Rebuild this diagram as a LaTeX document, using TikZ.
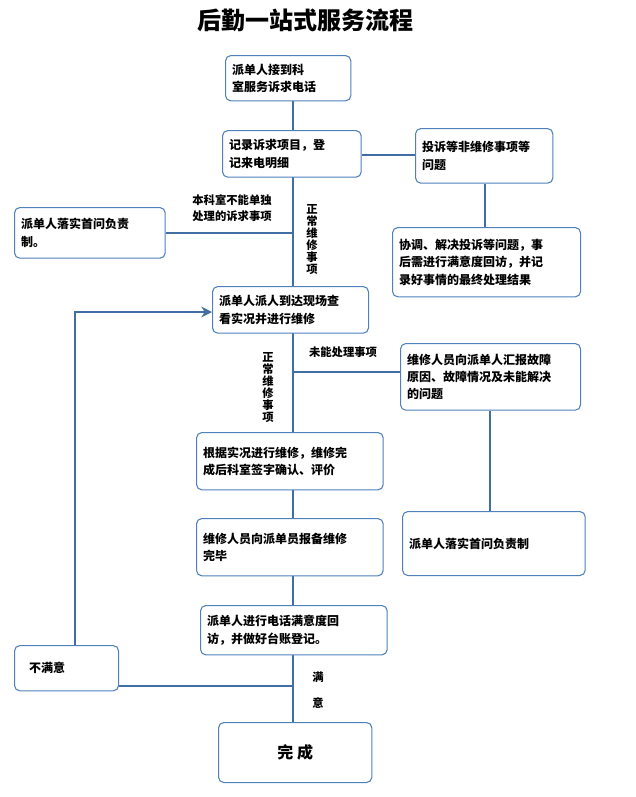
\documentclass[tikz,border=0pt]{standalone}
\usepackage{fontspec}
\newfontfamily\cjk{Noto Sans CJK SC}
\usetikzlibrary{positioning,arrows.meta,backgrounds}
\definecolor{boxline}{RGB}{79,129,189}
\definecolor{flowline}{RGB}{65,110,165}
\tikzset{
  flowbox/.style={draw=boxline,fill=white,rounded corners=4pt,line width=0.8pt,font=\cjk\bfseries\fontsize{9}{13}\selectfont,
    align=left,anchor=north west,inner sep=5pt},
  link/.style={draw=flowline,line width=1.6pt},
  note/.style={font=\cjk\bfseries\fontsize{8.5}{12}\selectfont,align=left}
}
\begin{document}
\begin{tikzpicture}[x=0.75pt,y=-0.75pt]
  \useasboundingbox (0,0) rectangle (636,797);
  \node[font=\cjk\bfseries\fontsize{18}{20}\selectfont] (title) at (305,20) {后勤一站式服务流程};

  % boxes
  \node[flowbox,minimum width=94pt,minimum height=34pt,text width=84pt] (call) at (225,55) {派单人接到科\\室服务诉求电话};
  \node[flowbox,minimum width=104pt,minimum height=35pt,text width=94pt] (record) at (222,130) {记录诉求项目，登\\记来电明细};
  \node[flowbox,minimum width=103pt,minimum height=41pt,text width=93pt] (complain) at (415,128) {投诉等非维修事项等\\问题};
  \node[flowbox,minimum width=113pt,minimum height=38pt,text width=103pt] (first1) at (14,207) {派单人落实首问负责\\制。};
  \node[flowbox,minimum width=141pt,minimum height=52pt,text width=131pt] (solve) at (392,227) {协调、解决投诉等问题，事\\后需进行满意度回访，并记\\录好事情的最终处理结果};
  \node[flowbox,minimum width=117pt,minimum height=35pt,text width=107pt] (dispatch) at (212,286) {派单人派人到达现场查\\看实况并进行维修};
  \node[flowbox,minimum width=135pt,minimum height=50pt,text width=125pt] (report) at (400,343) {维修人员向派单人汇报故障\\原因、故障情况及未能解决\\的问题};
  \node[flowbox,minimum width=140pt,minimum height=43pt,text width=130pt] (repair) at (196,432) {根据实况进行维修，维修完\\成后科室签字确认、评价};
  \node[flowbox,minimum width=137pt,minimum height=48pt,text width=127pt] (first2) at (402,511) {派单人落实首问负责制\\[16pt]};
  \node[flowbox,minimum width=140pt,minimum height=43pt,text width=130pt] (done) at (196,518) {维修人员向派单员报备维修\\完毕};
  \node[flowbox,minimum width=140pt,minimum height=37pt,text width=130pt] (visit) at (200,605) {派单人进行电话满意度回\\访，并做好台账登记。};
  \node[flowbox,minimum width=78pt,minimum height=34pt,text width=68pt] (unsat) at (14,645) {\ \ 不满意};
  \node[flowbox,minimum width=115pt,minimum height=45pt,align=center,font=\cjk\bfseries\fontsize{12}{14}\selectfont] (finish) at (218,722) {完\ 成};

  % connectors
  \begin{scope}[on background layer]
  \coordinate (top) at (293,100);
  \coordinate (bottom) at (293,722);
  \draw[link] (top) -- (bottom);
  \draw[link] (record.east |- 0,155) -- (complain.west |- 0,155);
  \draw[link] (complain.south -| 485,0) -- (solve.north -| 485,0);
  \draw[link] (first1.east |- 0,233) -- (293,233);
  \draw[link] (293,372) -- (report.west |- 0,372);
  \draw[link] (report.south -| 490,0) -- (first2.north -| 490,0);
  \draw[link] (unsat.east |- 0,686) -- (293,686);
  \draw[link,-{Stealth[length=8pt,width=8pt]}] (unsat.north -| 75,0) -- (75,312) -- (dispatch.west |- 0,312);
  \end{scope}

  % labels
  \node[note] (nolocal) at (232,208) {本科室不能单独\\处理的诉求事项};
  \node[note,text width=10pt,align=center,font=\cjk\bfseries\fontsize{8.5}{9}\selectfont] (normal1) at (312,240) {正\\常\\维\\修\\事\\项};
  \node[note] (cannot) at (343,352) {未能处理事项};
  \node[note,text width=10pt,align=center,font=\cjk\bfseries\fontsize{8.5}{9}\selectfont] (normal2) at (268,388) {正\\常\\维\\修\\事\\项};
  \node[note,align=center,font=\cjk\bfseries\fontsize{8.5}{19}\selectfont] (sat) at (318,690) {满\\意};
\end{tikzpicture}
\end{document}
